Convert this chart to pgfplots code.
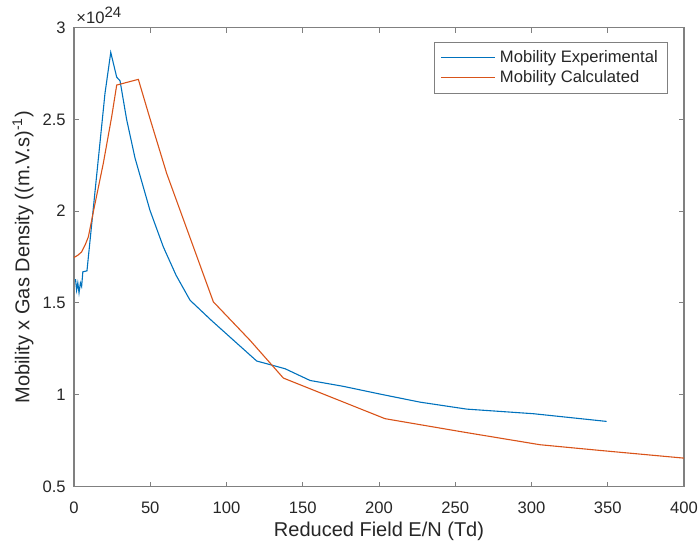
\documentclass[border=0pt]{standalone}
\usepackage{pgfplots}
\pgfplotsset{compat=1.18}
\usepackage{fontspec}
\setmainfont{Liberation Sans}
\definecolor{mblue}{rgb}{0,0.447,0.741}
\definecolor{morange}{rgb}{0.85,0.325,0.098}
\definecolor{axgray}{rgb}{0.5,0.5,0.5}
\definecolor{txt}{rgb}{0.15,0.15,0.15}
\begin{document}
\begin{tikzpicture}
\begin{axis}[name=ax, scale only axis, width=305pt, height=229.5pt,
 xmin=0, xmax=400, ymin=0.5, ymax=3,
 xtick={0,50,...,400}, ytick={0.5,1,1.5,2,2.5,3},
 tick align=inside, tick pos=both, major tick length=2.5pt,
 axis line style={axgray, line width=0.55pt},
 every tick/.style={axgray, line width=0.5pt},
 tick label style={font=\fontsize{8.3}{10}\selectfont, text=txt},
 xticklabel style={anchor=north, inner sep=0pt, yshift=-7.5pt},
 yticklabel style={anchor=east, inner sep=0pt, xshift=-4pt},
 /pgf/number format/assume math mode=true,
 xlabel={Reduced Field E/N (Td)},
 ylabel={Mobility x Gas Density ((m.V.s)\textsuperscript{-1})},
 label style={font=\fontsize{10}{12}\selectfont, text=txt},
 xlabel style={at={(axis description cs:0.5,-0.098)}, anchor=center},
 ylabel style={at={(axis description cs:-0.0836,0.5)}, anchor=center},
 legend style={at={(0.974,0.969)}, anchor=north east, draw=axgray,
   font=\fontsize{8.3}{10}\selectfont, text=txt, cells={anchor=west},
   row sep=-1.5pt, inner xsep=3pt, inner ysep=2pt},
 legend image code/.code={\draw[#1] (0pt,0pt) -- (27pt,0pt);},
]
\addplot[mblue, line width=0.55pt] coordinates {
(1.0,1.63)(1.7,1.57)(2.5,1.61)(3.3,1.555)(4.2,1.61)(5.0,1.59)(5.8,1.67)(8.5,1.675)
(20.3,2.64)(24.1,2.865)(28.0,2.73)(30.2,2.71)(34.5,2.50)(40,2.29)(49.8,2.005)
(58.6,1.805)(67,1.65)(76.1,1.515)(90,1.406)(103.4,1.306)(119.8,1.184)(138.4,1.142)
(154.8,1.078)(176.6,1.046)(201.8,1.002)(226.9,0.96)(257.5,0.922)(301.2,0.897)(349.3,0.855)
};
\addlegendentry{Mobility Experimental}
\addplot[morange, line width=0.55pt] coordinates {
(0,1.748)(2.5,1.76)(5.0,1.778)(7.5,1.82)(9.4,1.86)(13.8,2.042)(19.2,2.26)(24.7,2.514)
(28,2.687)(42.2,2.718)(49.8,2.505)(60.8,2.205)(91.4,1.506)(115.4,1.297)(137.3,1.091)
(203.9,0.87)(255.3,0.797)(305.6,0.728)(344.9,0.697)(400,0.655)
};
\addlegendentry{Mobility Calculated}
\end{axis}
\node[anchor=base west, text=txt, font=\fontsize{8.3}{10}\selectfont, inner sep=0pt]
  at ([xshift=1pt,yshift=1.8pt]ax.north west) {×10\raisebox{0.75ex}{\fontsize{7.5}{9}\selectfont 24}};
\pgfresetboundingbox
\path ([shift={(-37pt,-31.5pt)}]ax.south west) rectangle ([shift={(8pt,13.8pt)}]ax.north east);
\end{tikzpicture}
\end{document}
